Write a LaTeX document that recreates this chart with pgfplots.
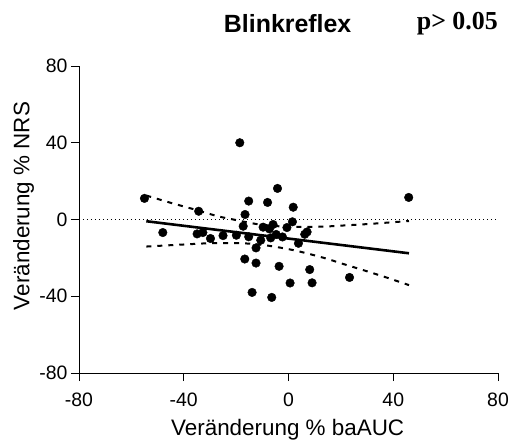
\documentclass[border=0pt]{standalone}
\usepackage{pgfplots}
\pgfplotsset{compat=1.18}
\usepackage{fontspec}
\setmainfont{Liberation Sans}
\newfontfamily\timesfont{Liberation Serif}
\begin{document}
\begin{tikzpicture}
\begin{axis}[
  at={(0,0)}, anchor=south west,
  scale only axis, width=419bp, height=307bp,
  xmin=-80, xmax=80, ymin=-80, ymax=80,
  axis lines=left, axis line style={-, line width=0.9bp},
  xtick={-80,-40,0,40,80}, ytick={-80,-40,0,40,80},
  tick align=outside, major tick length=8bp,
  tick style={black, line width=0.9bp},
  /pgf/number format/assume math mode=true,
  tick label style={font=\fontsize{19.5}{20}\selectfont},
  xticklabel style={yshift=-8bp},
  xlabel={Veränderung \% baAUC},
  ylabel={Veränderung \% NRS},
  label style={font=\fontsize{22.5}{24}\selectfont},
  xlabel style={at={(axis description cs:0.498,-0.186)}, anchor=center},
  ylabel style={at={(axis description cs:-0.132,0.544)}, anchor=center, rotate=0},
  clip=false,
]
\addplot[black, line width=0.9bp, dash pattern=on 1bp off 3bp] coordinates {(-80,0) (80,0)};
\addplot[black, line width=2.6bp] coordinates {(-54.3,-0.9) (46,-17.6)};
\addplot[black, line width=2bp, dash pattern=on 5bp off 6bp, smooth] coordinates {
(-54.3,12.5) (-45,8.7) (-35,4.9) (-27,1.7) (-20,-0.3) (-12,-2.4) (-3,-3.6) (5,-3.9) (13.5,-3.7) (20,-3.2) (30,-2.4) (38,-1.6) (46,-0.8)};
\addplot[black, line width=2bp, dash pattern=on 5bp off 6bp, smooth] coordinates {
(-54.3,-14.1) (-41,-13.1) (-28.5,-12.3) (-16,-12.5) (-7,-13.8) (3,-16.3) (13.5,-20) (20,-22.8) (30,-27) (38,-30.5) (46,-34.2)};
\addplot[only marks, mark=*, mark size=4.3bp, black] coordinates {
(-55,11) (-48,-6.8) (-34.3,4.3) (-34.9,-7.5) (-32.7,-6.8) (-29.8,-9.9) (-25,-8.4) (-19.9,-8.2)
(-18.6,40) (-16.6,2.6) (-17.3,-3.5) (-15.2,9.6) (-15.2,-9) (-12.4,-14.8) (-16.7,-20.6) (-12.4,-22.7)
(-13.9,-38) (-6.4,-40.6) (-10.6,-10.8) (-9.7,-4) (-8,8.9) (-7.3,-4.9) (-5.9,-2.6) (-6.8,-9.6)
(-4.7,-7.8) (-4.2,16.2) (-3.6,-24.4) (-2.3,-9.1) (-0.6,-4.2) (1.5,-1.2) (1.8,6.4) (3.8,-12.4)
(6.2,-7.7) (7.1,-6.5) (8.1,-26.1) (9,-33) (0.6,-33.1) (23.3,-30.2) (45.9,11.5)};
\node[anchor=center, font=\fontsize{25}{26}\selectfont\bfseries] at (axis description cs:0.498,1.137) {Blinkreflex};
\node[anchor=center, font=\fontsize{26}{27}\selectfont\timesfont\bfseries] at (axis description cs:0.903,1.137) {p> 0.05};
\end{axis}
\pgfresetboundingbox
\path[use as bounding box] (-79bp,-70bp) rectangle (432bp,373bp);
\end{tikzpicture}
\end{document}
